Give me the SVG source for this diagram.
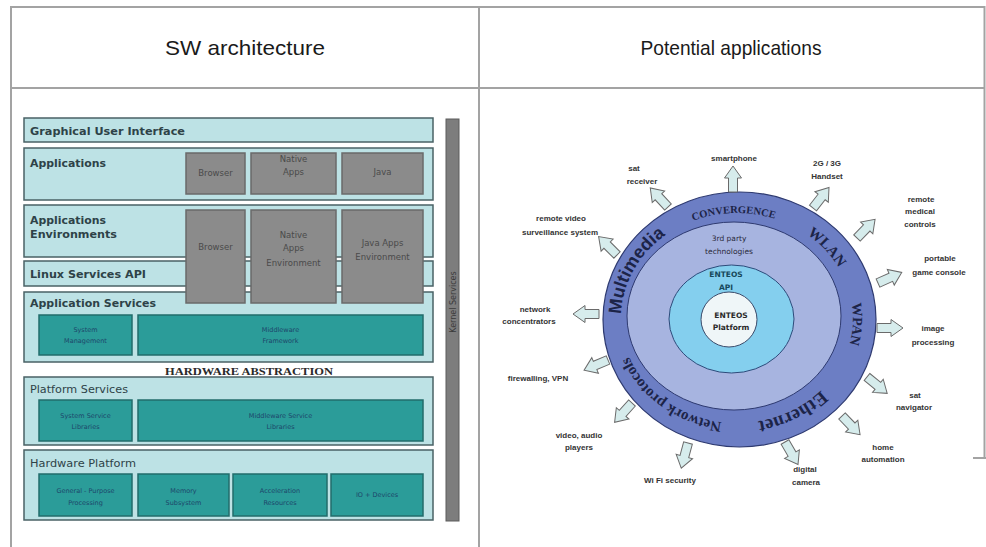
<svg xmlns="http://www.w3.org/2000/svg" width="986" height="547" viewBox="0 0 986 547">
<style>
.tbl{stroke:#a3a3a3;stroke-width:2;fill:none}
.hdr{font-family:"Liberation Sans",Arial,sans-serif;font-size:21px;fill:#1a1a1a;text-anchor:middle}
.row{fill:#bde2e5;stroke:#4a6265;stroke-width:1.5}
.gray{fill:#8b8b8b;stroke:#6a6a6a;stroke-width:1.5}
.teal{fill:#2b9c99;stroke:#226c6b;stroke-width:1.5}
.lbl{font-family:"DejaVu Sans",Verdana,sans-serif;font-size:11px;font-weight:bold;fill:#2e4248}
.lblr{font-family:"DejaVu Sans",Verdana,sans-serif;font-size:10px;fill:#2e4248}
.gt{font-family:"DejaVu Sans",Verdana,sans-serif;font-size:8.5px;fill:#4a4a4a;text-anchor:middle}
.tt{font-family:"DejaVu Sans",Verdana,sans-serif;font-size:6.5px;fill:#1d466a;text-anchor:middle}
.ha{font-family:"Liberation Serif","Times New Roman",serif;font-size:11px;font-weight:bold;fill:#2a2a2a;text-anchor:middle}
.ks{font-family:"DejaVu Sans",Verdana,sans-serif;font-size:8px;fill:#3a3a3a;text-anchor:middle}
.ap{font-family:"Liberation Sans",Arial,sans-serif;font-size:8px;font-weight:bold;fill:#333;text-anchor:middle}
.arr{fill:#d6ecec;stroke:#6a6a6a;stroke-width:1}
.ring{font-family:"Liberation Serif","Times New Roman",serif;font-weight:bold;fill:#1c2448;text-anchor:middle}
.in{font-family:"DejaVu Sans",Verdana,sans-serif;font-size:7.5px;text-anchor:middle}
</style>
<defs>
<path id="arw" d="M0,-4.5 H14 V-8.5 L26,0 L14,8.5 V4.5 H0 Z"/>
<path id="ringPath" d="M622.4,334.4 A116,105 0 0 1 778.6,220.0 A116,105 0 0 1 810.0,399.6 A116,105 0 0 1 622.4,334.4"/>
</defs>
<rect width="986" height="547" fill="#ffffff"/>

<g id="table">
<line class="tbl" x1="11" y1="7" x2="985" y2="7"/>
<line class="tbl" x1="11" y1="88" x2="985" y2="88"/>
<line class="tbl" x1="11" y1="6" x2="11" y2="547"/>
<line class="tbl" x1="479" y1="6" x2="479" y2="547"/>
<line class="tbl" x1="984.5" y1="6" x2="984.5" y2="458"/>
<line class="tbl" x1="973" y1="458" x2="986" y2="458"/>
<text class="hdr" x="245" y="55" textLength="160" lengthAdjust="spacingAndGlyphs">SW architecture</text>
<text class="hdr" x="731" y="55" textLength="181" lengthAdjust="spacingAndGlyphs">Potential applications</text>
</g>

<g id="sw-architecture">
<g id="gui">
<rect class="row" x="24" y="118" width="409" height="24"/>
<text class="lbl" x="30" y="135" textLength="155" lengthAdjust="spacingAndGlyphs">Graphical User Interface</text>
</g>
<g id="applications">
<rect class="row" x="24" y="148" width="409" height="52"/>
<text class="lbl" x="30" y="167" textLength="76" lengthAdjust="spacingAndGlyphs">Applications</text>
</g>
<g id="applications-environments">
<rect class="row" x="24" y="205" width="409" height="52"/>
<text class="lbl" x="30" y="224" textLength="76" lengthAdjust="spacingAndGlyphs">Applications</text>
<text class="lbl" x="30" y="238" textLength="87" lengthAdjust="spacingAndGlyphs">Environments</text>
</g>
<g id="linux-services-api">
<rect class="row" x="24" y="261" width="409" height="25"/>
<text class="lbl" x="30" y="278" textLength="116" lengthAdjust="spacingAndGlyphs">Linux Services API</text>
</g>
<g id="application-services">
<rect class="row" x="24" y="292" width="409" height="70"/>
<text class="lbl" x="30" y="307" textLength="126" lengthAdjust="spacingAndGlyphs">Application Services</text>
<g id="system-management">
<rect class="teal" x="39" y="315" width="93" height="40"/>
<text class="tt" x="85.5" y="332">System</text>
<text class="tt" x="85.5" y="343">Management</text>
</g>
<g id="middleware-framework">
<rect class="teal" x="138" y="315" width="285" height="40"/>
<text class="tt" x="280.5" y="332">Middleware</text>
<text class="tt" x="280.5" y="343">Framework</text>
</g>
</g>
<g id="app-boxes">
<g id="browser-app">
<rect class="gray" x="186" y="153" width="59" height="41"/>
<text class="gt" x="215.5" y="176">Browser</text>
</g>
<g id="native-apps">
<rect class="gray" x="251" y="153" width="85" height="41"/>
<text class="gt" x="293.5" y="162">Native</text>
<text class="gt" x="293.5" y="175">Apps</text>
</g>
<g id="java">
<rect class="gray" x="342" y="153" width="81" height="41"/>
<text class="gt" x="382.5" y="175">Java</text>
</g>
<g id="browser-env">
<rect class="gray" x="186" y="210" width="59" height="93"/>
<text class="gt" x="215.5" y="250">Browser</text>
</g>
<g id="native-apps-env">
<rect class="gray" x="251" y="210" width="85" height="93"/>
<text class="gt" x="293.5" y="238">Native</text>
<text class="gt" x="293.5" y="251">Apps</text>
<text class="gt" x="293.5" y="266">Environment</text>
</g>
<g id="java-apps-env">
<rect class="gray" x="342" y="210" width="81" height="93"/>
<text class="gt" x="382.5" y="246">Java Apps</text>
<text class="gt" x="382.5" y="260">Environment</text>
</g>
</g>
<g id="hardware-abstraction">
<text class="ha" x="249" y="375" textLength="168" lengthAdjust="spacingAndGlyphs">HARDWARE ABSTRACTION</text>
</g>
<g id="platform-services">
<rect class="row" x="24" y="377" width="409" height="68"/>
<text class="lblr" x="30" y="393" textLength="98" lengthAdjust="spacingAndGlyphs">Platform Services</text>
<rect class="teal" x="39" y="400" width="93" height="41"/>
<text class="tt" x="85.5" y="418">System Service</text>
<text class="tt" x="85.5" y="429">Libraries</text>
<rect class="teal" x="138" y="400" width="285" height="41"/>
<text class="tt" x="280.5" y="418">Middleware Service</text>
<text class="tt" x="280.5" y="429">Libraries</text>
</g>
<g id="hardware-platform">
<rect class="row" x="24" y="450" width="409" height="70"/>
<text class="lblr" x="30" y="467" textLength="106" lengthAdjust="spacingAndGlyphs">Hardware Platform</text>
<rect class="teal" x="39" y="474" width="93" height="42"/>
<text class="tt" x="85.5" y="493">General - Purpose</text>
<text class="tt" x="85.5" y="505">Processing</text>
<rect class="teal" x="138" y="474" width="91" height="42"/>
<text class="tt" x="183.5" y="493">Memory</text>
<text class="tt" x="183.5" y="505">Subsystem</text>
<rect class="teal" x="233" y="474" width="94" height="42"/>
<text class="tt" x="280" y="493">Acceleration</text>
<text class="tt" x="280" y="505">Resources</text>
<rect class="teal" x="331" y="474" width="92" height="42"/>
<text class="tt" x="377" y="497">IO + Devices</text>
</g>
<g id="kernel-services">
<rect x="446" y="119" width="13" height="402" fill="#7d7d7d" stroke="#5c5c5c" stroke-width="1"/>
<text class="ks" transform="translate(455.5,302) rotate(-90)">Kernel Services</text>
</g>
</g>

<g id="potential-applications">
<g id="ring-outer">
<ellipse cx="739.5" cy="319.5" rx="136.5" ry="127.5" fill="#6c7ec4" stroke="#2e3a70" stroke-width="1.2"/>
<text class="ring"><textPath href="#ringPath" startOffset="9.7%" style="font-family:'Liberation Sans',Arial,sans-serif;font-size:18px">Multimedia</textPath></text>
<text class="ring"><textPath href="#ringPath" startOffset="26.9%" style="font-size:10.5px">CONVERGENCE</textPath></text>
<text class="ring"><textPath href="#ringPath" startOffset="41.4%" style="font-size:15px">WLAN</textPath></text>
<text class="ring"><textPath href="#ringPath" startOffset="53.2%" style="font-size:14px">WPAN</textPath></text>
<text class="ring"><textPath href="#ringPath" startOffset="69.2%" style="font-size:19px">Ethernet</textPath></text>
<text class="ring"><textPath href="#ringPath" startOffset="88.1%" style="font-size:15px">Network protocols</textPath></text>
</g>
<g id="third-party">
<ellipse cx="734" cy="316" rx="107" ry="94" fill="#a7b4e0" stroke="#2e3a70" stroke-width="1"/>
<text class="in" x="729" y="241" fill="#2a2a3a">3rd party</text>
<text class="in" x="729" y="254" fill="#2a2a3a">technologies</text>
</g>
<g id="enteos-api">
<ellipse cx="731.5" cy="319" rx="62.5" ry="54" fill="#84cfee" stroke="#2e4a7a" stroke-width="1"/>
<text class="in" x="726" y="277" fill="#17485a" font-weight="bold">ENTEOS</text>
<text class="in" x="726" y="290" fill="#17485a" font-weight="bold">API</text>
</g>
<g id="enteos-platform">
<ellipse cx="729" cy="319.5" rx="28" ry="27.5" fill="#eff6f8" stroke="#3a4a6a" stroke-width="1"/>
<text class="in" x="731" y="318" fill="#2a2a2a" font-weight="bold">ENTEOS</text>
<text class="in" x="731" y="330" fill="#2a2a2a" font-weight="bold">Platform</text>
</g>

<g id="connectors">
<use href="#arw" class="arr" transform="translate(733,192) rotate(-90)"/>
<use href="#arw" class="arr" transform="translate(668,207) rotate(-133)"/>
<use href="#arw" class="arr" transform="translate(617,255) rotate(-135)"/>
<use href="#arw" class="arr" transform="translate(599,314) rotate(180)"/>
<use href="#arw" class="arr" transform="translate(608,360) rotate(157)"/>
<use href="#arw" class="arr" transform="translate(632,403) rotate(132)"/>
<use href="#arw" class="arr" transform="translate(688,443) rotate(105)"/>
<use href="#arw" class="arr" transform="translate(785,442) rotate(60)"/>
<use href="#arw" class="arr" transform="translate(842,416) rotate(46)"/>
<use href="#arw" class="arr" transform="translate(867,377) rotate(39)"/>
<use href="#arw" class="arr" transform="translate(877,328) rotate(0)"/>
<use href="#arw" class="arr" transform="translate(878,283) rotate(-24)"/>
<use href="#arw" class="arr" transform="translate(857,238) rotate(-46)"/>
<use href="#arw" class="arr" transform="translate(813,208) rotate(-52)"/>
</g>

<g id="app-smartphone"><text class="ap" x="734" y="161">smartphone</text></g>
<g id="app-sat-receiver"><text class="ap" x="634" y="171">sat</text><text class="ap" x="642" y="184">receiver</text></g>
<g id="app-video-surveillance"><text class="ap" x="561" y="221">remote video</text><text class="ap" x="560" y="235">surveillance system</text></g>
<g id="app-network-concentrators"><text class="ap" x="535" y="312">network</text><text class="ap" x="529" y="324">concentrators</text></g>
<g id="app-firewalling"><text class="ap" x="538" y="381">firewalling, VPN</text></g>
<g id="app-video-audio"><text class="ap" x="579" y="438">video, audio</text><text class="ap" x="579" y="450">players</text></g>
<g id="app-wifi"><text class="ap" x="670" y="483">Wi Fi security</text></g>
<g id="app-digital-camera"><text class="ap" x="805" y="472">digital</text><text class="ap" x="806" y="485">camera</text></g>
<g id="app-home-automation"><text class="ap" x="883" y="450">home</text><text class="ap" x="883" y="462">automation</text></g>
<g id="app-sat-navigator"><text class="ap" x="915" y="398">sat</text><text class="ap" x="914" y="410">navigator</text></g>
<g id="app-image-processing"><text class="ap" x="933" y="331">image</text><text class="ap" x="933" y="345">processing</text></g>
<g id="app-game-console"><text class="ap" x="940" y="261">portable</text><text class="ap" x="939" y="275">game console</text></g>
<g id="app-medical"><text class="ap" x="921" y="202">remote</text><text class="ap" x="920" y="214">medical</text><text class="ap" x="920" y="227">controls</text></g>
<g id="app-handset"><text class="ap" x="827" y="166">2G / 3G</text><text class="ap" x="827" y="179">Handset</text></g>
</g>
</svg>
